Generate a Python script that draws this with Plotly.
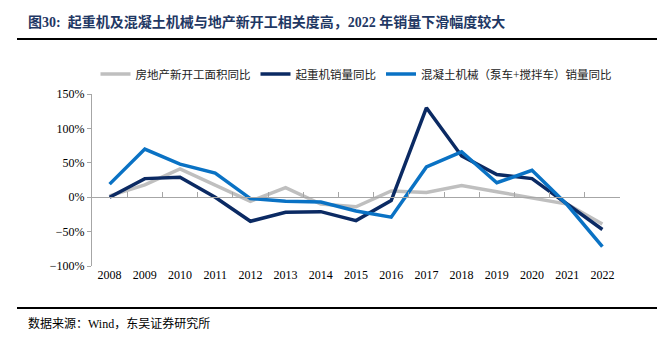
import plotly.graph_objects as go

# Annual data, 2008-2022
years = ["2008", "2009", "2010", "2011", "2012", "2013", "2014", "2015",
         "2016", "2017", "2018", "2019", "2020", "2021", "2022"]
property_starts_yoy = [2, 18, 41, 17, -6, 14, -10, -14, 9, 7, 17, 8, -1, -10, -39]
crane_sales_yoy = [0, 27, 29, 0, -35, -22, -21, -34, -5, 130, 60, 33, 27, -10, -47]
concrete_sales_yoy = [19, 70, 48, 35, -2, -6, -7, -20, -29, 44, 66, 21, 39, -11, -72]

series_names = ["房地产新开工面积同比", "起重机销量同比", "混凝土机械（泵车+搅拌车）销量同比"]
series_colors = ["#BFBFBF", "#0B2A63", "#0A72C4"]

title_text = "图30:  起重机及混凝土机械与地产新开工相关度高，2022 年销量下滑幅度较大"
source_text = "数据来源：Wind，东吴证券研究所"

W, H = 670, 343
L, R, T, B = 92, 620, 94, 266
FONT = "Liberation Serif, Noto Sans CJK SC, serif"


def px(x):
    return (x - L) / (R - L)


def py(y):
    return (B - y) / (B - T)


idx = list(range(len(years)))
fig = go.Figure()
for name, vals, col in zip(series_names, [property_starts_yoy, crane_sales_yoy, concrete_sales_yoy], series_colors):
    fig.add_trace(go.Scatter(x=idx, y=vals, name=name, mode="lines",
                             line=dict(color=col, width=3.5), xaxis="x", yaxis="y"))

# carrier trace for the zero-line axis with category-boundary ticks
fig.add_trace(go.Scatter(x=idx, y=[None] * len(idx), xaxis="x2", yaxis="y",
                         showlegend=False, hoverinfo="skip"))

fig.update_layout(
    width=W, height=H,
    margin=dict(l=L, r=W - R, t=T, b=H - B),
    paper_bgcolor="white", plot_bgcolor="white",
    font=dict(family=FONT, size=12, color="#000000"),
    showlegend=True,
    legend=dict(orientation="h", x=0.5, xanchor="center", y=py(74), yanchor="middle",
                font=dict(family=FONT, size=11.5, color="#222222"),
                itemwidth=30, tracegroupgap=0, bgcolor="rgba(0,0,0,0)"),
    xaxis=dict(range=[-0.5, len(years) - 0.5], tickmode="array", tickvals=idx, ticktext=years,
               showline=False, showgrid=False, zeroline=False, ticks="",
               tickfont=dict(family=FONT, size=12, color="#000000")),
    xaxis2=dict(range=[-0.5, len(years) - 0.5], overlaying="x", anchor="free",
                position=100 / 250, tickmode="linear", tick0=-0.5, dtick=1,
                ticks="inside", ticklen=5, tickcolor="#A6A6A6", tickwidth=1,
                showline=True, linecolor="#A6A6A6", linewidth=1.3,
                showticklabels=False, showgrid=False, zeroline=False),
    yaxis=dict(range=[-100, 150], tickmode="linear", tick0=-100, dtick=50, ticksuffix="%",
               showline=True, linecolor="#A6A6A6", linewidth=1, ticks="outside",
               ticklen=4, tickcolor="#A6A6A6", showgrid=False, zeroline=False,
               tickfont=dict(family=FONT, size=12, color="#000000")),
)

# title, rules and source note
fig.add_annotation(text="<b>" + title_text + "</b>", xref="paper", yref="paper",
                   x=px(26), y=py(22), xanchor="left", yanchor="middle", showarrow=False,
                   font=dict(family=FONT, size=14, color="#1F3864"))
fig.add_shape(type="line", xref="paper", yref="paper", x0=px(17), x1=px(657), y0=py(39), y1=py(39),
              line=dict(color="#000000", width=2))
fig.add_shape(type="line", xref="paper", yref="paper", x0=px(17), x1=px(657), y0=py(308), y1=py(308),
              line=dict(color="#000000", width=2))
fig.add_annotation(text=source_text, xref="paper", yref="paper",
                   x=px(26), y=py(323), xanchor="left", yanchor="middle", showarrow=False,
                   font=dict(family=FONT, size=12, color="#000000"))

fig.write_html("out.html")
